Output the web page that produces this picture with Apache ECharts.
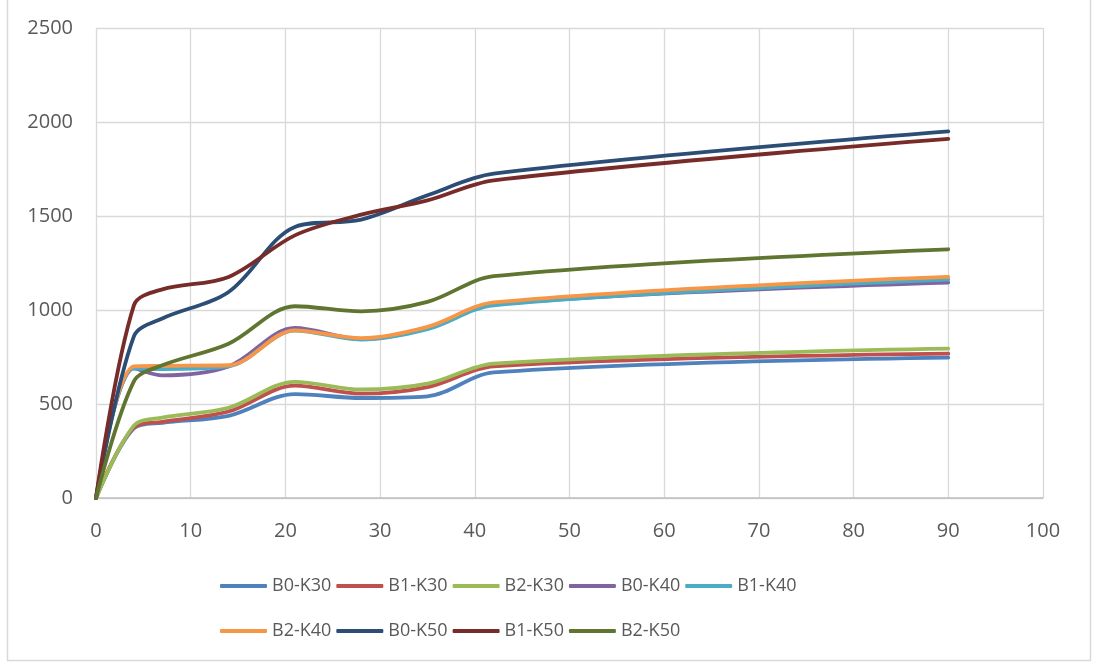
<!DOCTYPE html>
<html>
<head>
<meta charset="utf-8">
<script src="https://cdn.jsdelivr.net/npm/echarts@6/dist/echarts.min.js"></script>
<style>
html,body{margin:0;padding:0;background:#fff;}
#chart{width:1094px;height:664px;}
</style>
</head>
<body>
<div id="chart"></div>
<script>
// ---- data ----
const days = [0, 4, 7, 14, 21, 28, 35, 42, 90];
const seriesNames = ['B0-K30','B1-K30','B2-K30','B0-K40','B1-K40','B2-K40','B0-K50','B1-K50','B2-K50'];
const B0_K30 = [0, 370, 400, 437, 553, 532, 541, 668, 747];
const B1_K30 = [0, 375, 405, 460, 598, 555, 590, 700, 768];
const B2_K30 = [0, 385, 428, 480, 618, 577, 608, 715, 795];
const B0_K40 = [0, 690, 652, 700, 905, 845, 905, 1030, 1146];
const B1_K40 = [0, 690, 686, 700, 890, 843, 898, 1025, 1162];
const B2_K40 = [0, 700, 703, 706, 892, 850, 910, 1040, 1176];
const B0_K50 = [0, 860, 955, 1096, 1442, 1481, 1610, 1725, 1950];
const B1_K50 = [0, 1025, 1110, 1176, 1397, 1507, 1583, 1690, 1910];
const B2_K50 = [0, 620, 706, 821, 1020, 993, 1043, 1180, 1323];
const xTicks = [0, 10, 20, 30, 40, 50, 60, 70, 80, 90, 100];
const yTicks = [0, 500, 1000, 1500, 2000, 2500];

const allValues = [B0_K30, B1_K30, B2_K30, B0_K40, B1_K40, B2_K40, B0_K50, B1_K50, B2_K50];
const colors = ['#4F81BD','#C0504D','#9BBB59','#8064A2','#4BACC6','#F79646','#2C4D75','#772C2A','#5F7530'];

const FONT = 'Open Sans';
const TXT = '#595959';

const series = seriesNames.map((name, i) => ({
  name: name,
  type: 'line',
  smooth: 0.33,
  showSymbol: false,
  symbol: 'none',
  color: colors[i],
  lineStyle: { width: 3.8, color: colors[i], cap: 'round', join: 'round' },
  data: days.map((d, j) => [d, allValues[i][j]])
}));

// one legend component per entry to reproduce Excel's fixed grid of legend cells
const legends = seriesNames.map((name, i) => {
  const row = i < 5 ? 0 : 1;
  const col = i < 5 ? i : i - 5;
  return {
    data: [name],
    left: 220 + 116.3 * col,
    top: row === 0 ? 577 : 622,
    icon: 'roundRect',
    itemWidth: 47,
    itemHeight: 4,
    itemGap: 0,
    textStyle: { color: TXT, fontFamily: FONT, fontSize: 18, padding: [0, 0, 0, 0] },
    padding: 0,
    selectedMode: false
  };
});

const chart = echarts.init(document.getElementById('chart'), null, { renderer: 'canvas' });
chart.setOption({
  animation: false,
  backgroundColor: '#ffffff',
  grid: { left: 96, right: 51, top: 28, bottom: 166, containLabel: false },
  xAxis: {
    type: 'value',
    min: xTicks[0],
    max: xTicks[xTicks.length - 1],
    interval: 10,
    axisLine: { show: true, onZero: false, lineStyle: { color: '#bfbfbf', width: 1.5 } },
    axisTick: { show: false },
    axisLabel: { color: TXT, fontFamily: FONT, fontSize: 20, margin: 23, formatter: v => String(v) },
    splitLine: { show: true, lineStyle: { color: '#d9d9d9', width: 1.3 } }
  },
  yAxis: {
    type: 'value',
    min: yTicks[0],
    max: yTicks[yTicks.length - 1],
    interval: 500,
    axisLine: { show: false },
    axisTick: { show: false },
    axisLabel: { color: TXT, fontFamily: FONT, fontSize: 20, margin: 23, formatter: v => String(v) },
    splitLine: { show: true, lineStyle: { color: '#d9d9d9', width: 1.3 } }
  },
  legend: legends,
  graphic: [{
    type: 'rect',
    shape: { x: 7.5, y: -5, width: 1083, height: 665.5 },
    style: { fill: 'none', stroke: '#d9d9d9', lineWidth: 1.5 },
    silent: true,
    z: -1
  }],
  series: series
});
</script>
</body>
</html>
